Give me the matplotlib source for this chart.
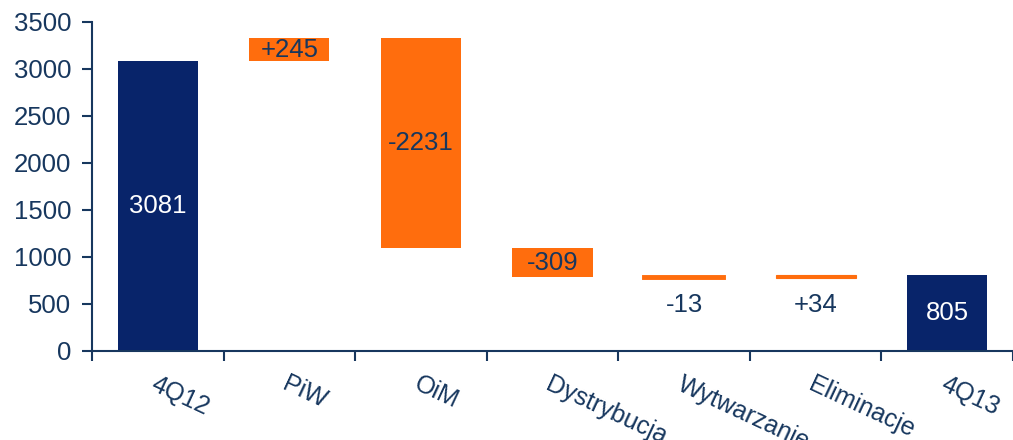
import numpy as np
import matplotlib.pyplot as plt

plt.rcParams['font.family'] = ['Liberation Sans', 'DejaVu Sans']

categories = ['4Q12', 'PiW', 'OiM', 'Dystrybucja', 'Wytwarzanie', 'Eliminacje', '4Q13']
values = [3081, 245, -2231, -309, -13, 34, 805]
is_total = [True, False, False, False, False, False, True]
labels = ['3081', '+245', '-2231', '-309', '-13', '+34', '805']

navy = '#08246a'
orange = '#ff6d0d'
textc = '#17375e'
# tiny bars get a little outline so they stay visible, like in the original
edge_w = [0, 0, 0, 0, 2.8, 0.8, 0]

# waterfall bottoms / heights
bottoms = []
heights = []
run = 0
for v, tot in zip(values, is_total):
  if tot:
    bottoms.append(0)
    heights.append(v)
    run = v
  else:
    lo = min(run, run + v)
    bottoms.append(lo)
    heights.append(abs(v))
    run += v

fig = plt.figure(figsize=(10.13, 4.4), dpi=100)
ax = fig.add_axes([0.0908, 0.2023, 0.9092, 0.7477])

x = np.arange(len(categories))
colors = [navy if t else orange for t in is_total]
ax.bar(x, heights, bottom=bottoms, width=0.61, color=colors, edgecolor=colors,
       linewidth=edge_w)

for i in range(len(x)):
  h = heights[i]
  b = bottoms[i]
  if h > 150:
    c = 'white' if is_total[i] else textc
    ax.text(x[i], b + h / 2, labels[i], ha='center', va='center', fontsize=18.5, color=c)
  else:
    ax.annotate(labels[i], (x[i], b), xytext=(0, -27), textcoords='offset pixels',
                ha='center', va='center', fontsize=18.5, color=textc)

ax.set_xlim(-0.5, 6.5)
ax.set_ylim(0, 3500)
ax.set_yticks(np.arange(0, 3501, 500))

# ticks at category boundaries, labels at category centers
ax.set_xticks(np.arange(-0.5, 7, 1.0))
ax.set_xticklabels([])
ax.set_xticks(x, minor=True)
ax.set_xticklabels(categories, minor=True, rotation=-25, ha='left', va='top',
                   rotation_mode='anchor', fontsize=18, color=textc)
ax.tick_params(axis='x', which='minor', length=0, pad=15)
ax.tick_params(axis='x', which='major', length=7, width=1.5, color=textc, direction='out')
ax.tick_params(axis='y', length=7, width=1.5, color=textc, direction='out', labelsize=18.5,
               labelcolor=textc, pad=8)

for s in ['top', 'right']:
  ax.spines[s].set_visible(False)
for s in ['left', 'bottom']:
  ax.spines[s].set_color(textc)
  ax.spines[s].set_linewidth(1.5)

fig.savefig('out.png', dpi=100)
